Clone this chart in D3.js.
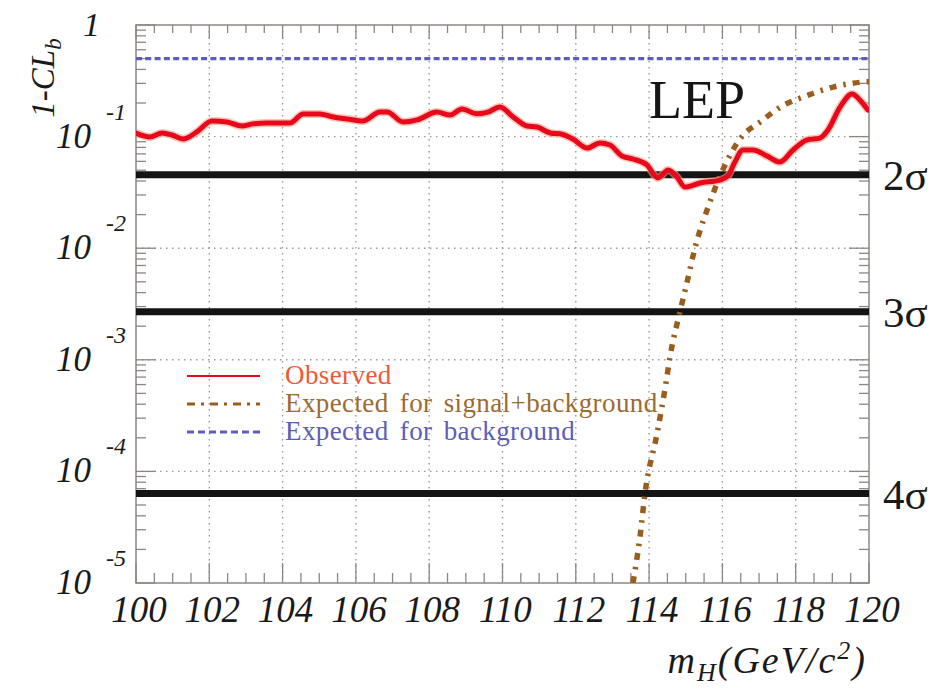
<!DOCTYPE html>
<html>
<head>
<meta charset="utf-8">
<script src="https://cdn.jsdelivr.net/npm/d3@7"></script>
<style>
  html, body { margin: 0; padding: 0; background: #fff; }
  svg { display: block; }
</style>
</head>
<body>
<svg id="chart" width="948" height="695" font-family="'Liberation Serif', 'Times New Roman', Times, Tinos, serif"></svg>
<script>
// Higgs mass scan: background-only p-value (1-CL_b) versus m_H
const massRange = [100, 120];
const pRange = [1e-5, 1];

// Observed 1-CL_b
const obsMass = [100.0, 100.38, 100.71, 100.98, 101.28, 101.66, 102.07, 102.48, 102.89, 103.19,
  103.57, 104.2, 104.56, 105.02, 105.38, 105.76, 106.19, 106.66, 106.85, 107.29,
  107.67, 108.21, 108.57, 108.89, 109.3, 109.6, 109.93, 110.29, 110.67, 110.94,
  111.3, 111.62, 111.92, 112.31, 112.66, 112.93, 113.26, 113.56, 113.94, 114.24,
  114.52, 114.76, 114.98, 115.39, 115.93, 116.15, 116.34, 116.56, 116.83, 117.22,
  117.57, 117.93, 118.31, 118.66, 118.88, 119.21, 119.54, 119.75, 119.97];
const obsP = [0.1077, 0.0991, 0.1077, 0.1033, 0.0951, 0.110, 0.138, 0.135, 0.1245, 0.130,
  0.1325, 0.1325, 0.1596, 0.1596, 0.150, 0.144, 0.138, 0.166, 0.166, 0.135,
  0.141, 0.166, 0.156, 0.177, 0.160, 0.166, 0.184, 0.150, 0.1245, 0.122,
  0.1077, 0.105, 0.0951, 0.079, 0.0877, 0.0841, 0.067, 0.063, 0.0557, 0.0426,
  0.0502, 0.0435, 0.0353, 0.0384, 0.0408, 0.0443, 0.0592, 0.0759, 0.0759, 0.067,
  0.0592, 0.0759, 0.0933, 0.097, 0.1146, 0.184, 0.241, 0.213, 0.173];

// Expected for signal+background
const sbMass = [113.56, 113.75, 113.89, 114.22, 114.46, 114.57, 114.84, 115.03, 115.25, 115.61,
  115.96, 116.53, 117.03, 117.63, 118.2, 119.02, 119.84, 120.0];
const sbP = [1.0e-5, 2.58e-5, 6.4e-5, 2.21e-4, 6.19e-4, 1.06e-3, 2.68e-3, 4.88e-3, 1.0e-2, 2.34e-2,
  0.0462, 0.1, 0.135, 0.188, 0.226, 0.278, 0.308, 0.31];

// Expected for background only
const bgMass = [100, 120];
const bgP = [0.5, 0.5];

// Significance reference levels
const sigmaLabels = ["2σ", "3σ", "4σ"];
const sigmaP = [0.0455, 0.0027, 6.33e-5];

// Axis tick labels
const xTickValues = [100, 102, 104, 106, 108, 110, 112, 114, 116, 118, 120];
const yDecades = [0, -1, -2, -3, -4, -5];

const legendLabels = ["Observed", "Expected for signal+background", "Expected for background"];

const svg = d3.select("#chart");
const L = 136, R = 869, T = 25, B = 583;
const x = d3.scaleLinear().domain(massRange).range([L, R]);
const y = d3.scaleLog().domain(pRange).range([B, T]);

const frameColor = "#8d8782";
const gridColor = "#9a9a9a";

// Grid
const grid = svg.append("g");
xTickValues.filter(v => v > 100 && v < 120).forEach(v => {
  grid.append("line").attr("x1", x(v)).attr("x2", x(v)).attr("y1", T).attr("y2", B)
    .attr("stroke", gridColor).attr("stroke-width", 1.4).attr("stroke-dasharray", "1.5,4.5");
});
yDecades.filter(d => d < 0 && d > -5).forEach(d => {
  grid.append("line").attr("x1", L).attr("x2", R).attr("y1", y(Math.pow(10, d))).attr("y2", y(Math.pow(10, d)))
    .attr("stroke", gridColor).attr("stroke-width", 1.4).attr("stroke-dasharray", "1.5,4.5");
});

// Ticks
const ticks = svg.append("g").attr("stroke", frameColor).attr("stroke-width", 1.3);
for (let m = 100; m <= 120.001; m += 0.5) {
  const major = Math.abs(m / 2 - Math.round(m / 2)) < 1e-6;
  const px = x(m);
  ticks.append("line").attr("x1", px).attr("x2", px).attr("y1", B).attr("y2", B - (major ? 20 : 10));
  ticks.append("line").attr("x1", px).attr("x2", px).attr("y1", T).attr("y2", T + (major ? 14 : 8));
}
for (let d = -5; d <= 0; d++) {
  for (let k = 1; k <= 9; k++) {
    const v = k * Math.pow(10, d);
    if (v > 1.0001 || v < 1e-5) continue;
    const py = y(v);
    const len = k === 1 ? 20 : 10;
    ticks.append("line").attr("x1", L).attr("x2", L + len).attr("y1", py).attr("y2", py);
    ticks.append("line").attr("x1", R).attr("x2", R - len).attr("y1", py).attr("y2", py);
  }
}

// Frame
svg.append("rect").attr("x", L).attr("y", T).attr("width", R - L).attr("height", B - T)
  .attr("fill", "none").attr("stroke", frameColor).attr("stroke-width", 1.5);

// Sigma lines
sigmaP.forEach((p, i) => {
  svg.append("line").attr("x1", L).attr("x2", R).attr("y1", y(p)).attr("y2", y(p))
    .attr("stroke", "#141414").attr("stroke-width", 7);
  svg.append("text").attr("x", 883).attr("y", y(p) + 15)
    .attr("font-size", 43).attr("fill", "#1a1a1a").text(sigmaLabels[i]);
});

const lineGen = d3.line().x(d => x(d[0])).y(d => y(d[1])).curve(d3.curveMonotoneX);

svg.append("defs").append("clipPath").attr("id", "plotClip")
  .append("rect").attr("x", L).attr("y", T).attr("width", R - L).attr("height", B - T);
const plot = svg.append("g").attr("clip-path", "url(#plotClip)");

// Background expectation
plot.append("path").datum(d3.zip(bgMass, bgP)).attr("d", lineGen)
  .attr("fill", "none").attr("stroke", "#5d5dbf").attr("stroke-width", 3.2)
  .attr("stroke-dasharray", "6,3.3");

// Signal+background expectation
plot.append("path").datum(d3.zip(sbMass, sbP)).attr("d", lineGen)
  .attr("fill", "none").attr("stroke", "#9a5d1c").attr("stroke-width", 5.5)
  .attr("stroke-dasharray", "7,7,2.5,7");

// Observed
const obsData = d3.zip(obsMass, obsP);
plot.append("path").datum(obsData).attr("d", lineGen)
  .attr("fill", "none").attr("stroke", "#f6a07e").attr("stroke-width", 8)
  .attr("stroke-opacity", 0.6).attr("stroke-linejoin", "round");
plot.append("path").datum(obsData).attr("d", lineGen)
  .attr("fill", "none").attr("stroke", "#e8071d").attr("stroke-width", 5)
  .attr("stroke-linejoin", "round").attr("stroke-linecap", "round");

// LEP label
svg.append("text").attr("x", 649).attr("y", 118).attr("font-size", 54)
  .attr("fill", "#151515").text("LEP");

// Legend
const legendY = [376, 404, 432];
const legendColors = ["#e8071d", "#9a5d1c", "#5d5dbf"];
const legendText = ["#f0583a", "#9d6a30", "#5d5db8"];
const legendDash = [null, "8,6,3,6", "7,4"];
legendLabels.forEach((lab, i) => {
  svg.append("line").attr("x1", 187).attr("x2", 260).attr("y1", legendY[i]).attr("y2", legendY[i])
    .attr("stroke", legendColors[i]).attr("stroke-width", i === 0 ? 2.2 : 3)
    .attr("stroke-dasharray", legendDash[i]);
  svg.append("text").attr("x", 285).attr("y", legendY[i] + 8).attr("font-size", 27)
    .attr("letter-spacing", 0.4).attr("word-spacing", 4)
    .attr("fill", legendText[i]).text(lab);
});

// X tick labels
xTickValues.forEach(v => {
  svg.append("text").attr("x", x(v) + 3).attr("y", 622).attr("text-anchor", "middle")
    .attr("font-size", 37).attr("font-style", "italic").attr("fill", "#1a1a1a").text(v);
});

// Y tick labels
yDecades.forEach(d => {
  const py = y(Math.pow(10, d));
  if (d === 0) {
    svg.append("text").attr("x", 100).attr("y", py + 11).attr("text-anchor", "end")
      .attr("font-size", 34).attr("font-style", "italic").attr("fill", "#1a1a1a").text("1");
  } else {
    svg.append("text").attr("x", 91).attr("y", py + 11).attr("text-anchor", "end")
      .attr("font-size", 35).attr("font-style", "italic").attr("fill", "#1a1a1a").text("10");
    svg.append("text").attr("x", 126).attr("y", py - 17).attr("text-anchor", "end")
      .attr("font-size", 24).attr("font-style", "italic").attr("fill", "#1a1a1a").text(String(d));
  }
});

// Axis titles
const xt = svg.append("text").attr("x", 867).attr("y", 673).attr("text-anchor", "end")
  .attr("font-size", 38).attr("font-style", "italic").attr("letter-spacing", 2).attr("fill", "#1a1a1a");
xt.append("tspan").text("m");
xt.append("tspan").attr("font-size", 26).attr("dy", 8).text("H");
xt.append("tspan").attr("dy", -8).text("(GeV/c");
xt.append("tspan").attr("font-size", 26).attr("dy", -14).text("2");
xt.append("tspan").attr("dy", 14).text(")");

const yt = svg.append("text").attr("transform", "translate(54,78) rotate(-90)")
  .attr("text-anchor", "middle").attr("font-size", 33).attr("font-style", "italic").attr("fill", "#1a1a1a");
yt.append("tspan").text("1-CL");
yt.append("tspan").attr("font-size", 23).attr("dy", 7).text("b");
</script>
</body>
</html>
